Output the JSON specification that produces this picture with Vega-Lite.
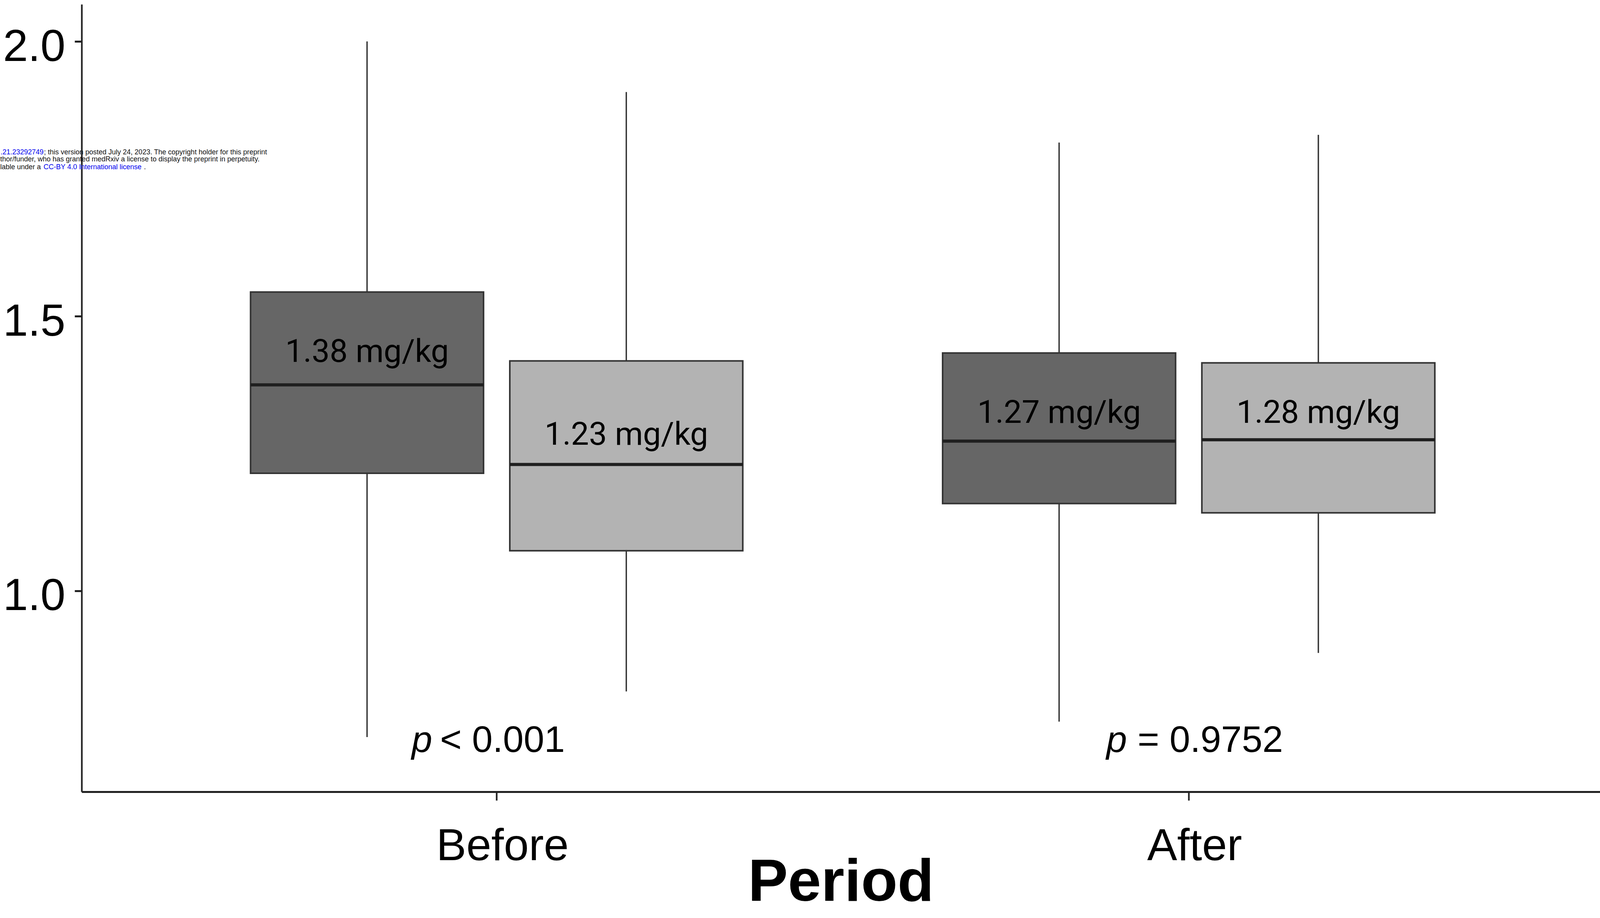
{
  "$schema": "https://vega.github.io/schema/vega-lite/v6.json",
  "width": 3887,
  "height": 2015,
  "autosize": {"type": "none"},
  "padding": {"left": 209, "top": 11, "right": 0, "bottom": 323},
  "background": "white",
  "config": {
    "view": {"stroke": null},
    "font": "Liberation Sans",
    "axis": {"grid": false, "domainColor": "#222222", "tickColor": "#222222", "labelColor": "black", "labelFont": "Liberation Sans", "labelFontSize": 115, "labelLimit": 0},
    "axisX": {"labelAngle": 0, "labelPadding": 61, "labelOffset": 15, "tickSize": 22, "tickWidth": 4.2, "domainWidth": 5, "titleFont": "Liberation Sans", "titleFontSize": 153, "titleFontWeight": "bold", "titleColor": "black", "titlePadding": -40},
    "axisY": {"labelPadding": 24, "tickSize": 18, "tickWidth": 5, "domainWidth": 4.2, "labelOffset": 14}
  },
  "datasets": {
    "boxes": [
      {"period": "Before", "group": "Group 1", "lower": 0.734, "q1": 1.214, "median": 1.375, "q3": 1.544, "upper": 2.0, "label": "1.38 mg/kg", "label_y": 1.417},
      {"period": "Before", "group": "Group 2", "lower": 0.817, "q1": 1.073, "median": 1.230, "q3": 1.4185, "upper": 1.908, "label": "1.23 mg/kg", "label_y": 1.266},
      {"period": "After", "group": "Group 1", "lower": 0.762, "q1": 1.159, "median": 1.2726, "q3": 1.433, "upper": 1.816, "label": "1.27 mg/kg", "label_y": 1.306},
      {"period": "After", "group": "Group 2", "lower": 0.887, "q1": 1.142, "median": 1.275, "q3": 1.415, "upper": 1.830, "label": "1.28 mg/kg", "label_y": 1.306}
    ],
    "pvals": [
      {"period": "Before", "sym": "p", "rest": "< 0.001", "y": 0.707},
      {"period": "After", "sym": "p", "rest": "= 0.9752", "y": 0.707}
    ]
  },
  "encoding": {
    "x": {
      "field": "period",
      "type": "nominal",
      "sort": ["Before", "After"],
      "title": "Period",
      "scale": {"paddingInner": 0, "paddingOuter": 0.097, "align": 0.514}
    }
  },
  "layer": [
    {
      "data": {"name": "boxes"},
      "mark": {"type": "rule", "color": "#333333", "strokeWidth": 3.5},
      "encoding": {
        "xOffset": {"field": "group", "type": "nominal", "scale": {"paddingInner": 0.1013, "paddingOuter": 0.3854}},
        "y": {
          "field": "lower",
          "type": "quantitative",
          "title": null,
          "scale": {"domain": [0.6344, 2.0676], "nice": false, "zero": false},
          "axis": {"values": [1.0, 1.5, 2.0], "format": ".1f"}
        },
        "y2": {"field": "upper"}
      }
    },
    {
      "data": {"name": "boxes"},
      "mark": {"type": "bar", "stroke": "#333333", "strokeWidth": 4},
      "encoding": {
        "xOffset": {"field": "group", "type": "nominal", "scale": {"paddingInner": 0.1013, "paddingOuter": 0.3854}},
        "y": {"field": "q1", "type": "quantitative", "title": null},
        "y2": {"field": "q3"},
        "color": {
          "field": "group",
          "type": "nominal",
          "scale": {"domain": ["Group 1", "Group 2"], "range": ["#666666", "#b3b3b3"]},
          "legend": null
        }
      }
    },
    {
      "data": {"name": "boxes"},
      "mark": {"type": "bar", "stroke": "#1f1f1f", "strokeWidth": 8, "fill": "#1f1f1f"},
      "encoding": {
        "xOffset": {"field": "group", "type": "nominal", "scale": {"paddingInner": 0.1013, "paddingOuter": 0.3854}},
        "y": {"field": "median", "type": "quantitative", "title": null},
        "y2": {"field": "median"}
      }
    },
    {
      "data": {"name": "boxes"},
      "mark": {"type": "text", "font": "Roboto", "fontSize": 82, "color": "black", "baseline": "alphabetic", "align": "center"},
      "encoding": {
        "xOffset": {"field": "group", "type": "nominal", "scale": {"paddingInner": 0.1013, "paddingOuter": 0.3854}},
        "y": {"field": "label_y", "type": "quantitative", "title": null},
        "text": {"field": "label"}
      }
    },
    {
      "data": {"name": "pvals"},
      "transform": [{"filter": "datum.period == 'Before'"}],
      "mark": {"type": "text", "fontSize": 95, "fontStyle": "italic", "color": "black", "baseline": "alphabetic", "align": "right", "dx": -165},
      "encoding": {
        "y": {"field": "y", "type": "quantitative", "title": null},
        "text": {"field": "sym"}
      }
    },
    {
      "data": {"name": "pvals"},
      "transform": [{"filter": "datum.period == 'Before'"}],
      "mark": {"type": "text", "fontSize": 95, "color": "black", "baseline": "alphabetic", "align": "left", "dx": -145},
      "encoding": {
        "y": {"field": "y", "type": "quantitative", "title": null},
        "text": {"field": "rest"}
      }
    },
    {
      "data": {"name": "pvals"},
      "transform": [{"filter": "datum.period == 'After'"}],
      "mark": {"type": "text", "fontSize": 95, "fontStyle": "italic", "color": "black", "baseline": "alphabetic", "align": "right", "dx": -158},
      "encoding": {
        "y": {"field": "y", "type": "quantitative", "title": null},
        "text": {"field": "sym"}
      }
    },
    {
      "data": {"name": "pvals"},
      "transform": [{"filter": "datum.period == 'After'"}],
      "mark": {"type": "text", "fontSize": 95, "color": "black", "baseline": "alphabetic", "align": "left", "dx": -131},
      "encoding": {
        "y": {"field": "y", "type": "quantitative", "title": null},
        "text": {"field": "rest"}
      }
    },
    {
      "data": {"values": [{"period": "Before", "text": ".21.23292749", "y": 1.7943}]},
      "mark": {"type": "text", "fontSize": 18, "color": "#0000ee", "baseline": "alphabetic", "align": "left", "dx": -1270},
      "encoding": {
        "y": {"field": "y", "type": "quantitative", "title": null},
        "text": {"field": "text"}
      }
    },
    {
      "data": {"values": [{"period": "Before", "text": "; this version posted July 24, 2023. The copyright holder for this preprint", "y": 1.7943}]},
      "mark": {"type": "text", "fontSize": 18, "color": "#111111", "baseline": "alphabetic", "align": "left", "dx": -1159},
      "encoding": {
        "y": {"field": "y", "type": "quantitative", "title": null},
        "text": {"field": "text"}
      }
    },
    {
      "data": {"values": [
        {"period": "Before", "text": "thor/funder, who has granted medRxiv a license to display the preprint in perpetuity.", "y": 1.7815},
        {"period": "Before", "text": "lable under a", "y": 1.7673}
      ]},
      "mark": {"type": "text", "fontSize": 18, "color": "#111111", "baseline": "alphabetic", "align": "left", "dx": -1271},
      "encoding": {
        "y": {"field": "y", "type": "quantitative", "title": null},
        "text": {"field": "text"}
      }
    },
    {
      "data": {"values": [{"period": "Before", "text": "CC-BY 4.0 International license", "y": 1.7673}]},
      "mark": {"type": "text", "fontSize": 18, "color": "#0000ee", "baseline": "alphabetic", "align": "left", "dx": -1160},
      "encoding": {
        "y": {"field": "y", "type": "quantitative", "title": null},
        "text": {"field": "text"}
      }
    },
    {
      "data": {"values": [{"period": "Before", "text": ".", "y": 1.7673}]},
      "mark": {"type": "text", "fontSize": 18, "color": "#111111", "baseline": "alphabetic", "align": "left", "dx": -903},
      "encoding": {
        "y": {"field": "y", "type": "quantitative", "title": null},
        "text": {"field": "text"}
      }
    }
  ]
}
